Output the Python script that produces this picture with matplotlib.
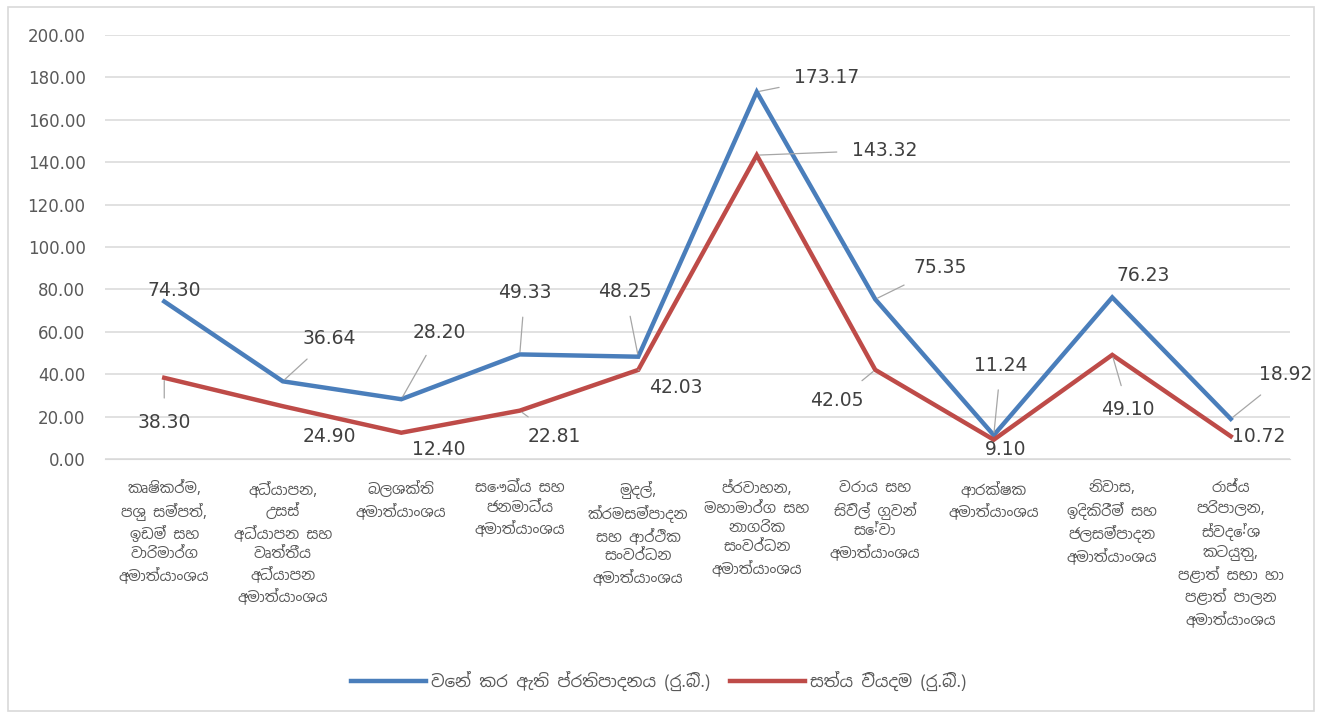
import logging
import matplotlib
matplotlib.use("Agg")
import matplotlib.pyplot as plt
from matplotlib import font_manager
from matplotlib.patches import Rectangle

logging.getLogger("fontTools").setLevel(logging.ERROR)

# Dataset
categories = [
    "කෘෂිකර්ම,\nපශු සම්පත්,\nඉඩම් සහ\nවාරිමාර්ග\nඅමාත්‍යාංශය",
    "අධ්‍යාපන,\nඋසස්\nඅධ්‍යාපන සහ\nවෘත්තීය\nඅධ්‍යාපන\nඅමාත්‍යාංශය",
    "බලශක්ති\nඅමාත්‍යාංශය",
    "සෞඛ්‍ය සහ\nජනමාධ්‍ය\nඅමාත්‍යාංශය",
    "මුදල්,\nක්‍රමසම්පාදන\nසහ ආර්ථික\nසංවර්ධන\nඅමාත්‍යාංශය",
    "ප්‍රවාහන,\nමහාමාර්ග සහ\nනාගරික\nසංවර්ධන\nඅමාත්‍යාංශය",
    "වරාය සහ\nසිවිල් ගුවන්\nසේවා\nඅමාත්‍යාංශය",
    "ආරක්ෂක\nඅමාත්‍යාංශය",
    "නිවාස,\nඉදිකිරීම් සහ\nජලසම්පාදන\nඅමාත්‍යාංශය",
    "රාජ්‍ය\nපරිපාලන,\nස්වදේශ\nකටයුතු,\nපළාත් සභා හා\nපළාත් පාලන\nඅමාත්‍යාංශය",
]
allocated = [74.30, 36.64, 28.20, 49.33, 48.25, 173.17, 75.35, 11.24, 76.23, 18.92]
actual = [38.30, 24.90, 12.40, 22.81, 42.03, 143.32, 42.05, 9.10, 49.10, 10.72]
series_names = ["වෙන් කර ඇති ප්‍රතිපාදනය (රු.බි.)", "සත්‍ය වියදම (රු.බි.)"]
yticks = [0, 20, 40, 60, 80, 100, 120, 140, 160, 180, 200]

# label offsets in pixels (dx, dy) and whether a leader line is drawn
blue_off = [(10, 11), (47, 43), (38, 67), (5, 62), (-13, 65), (70, 14), (65, 32), (7, 70), (31, 22), (55, 44)]
blue_lead = [False, True, True, True, True, True, True, True, False, True]
red_off = [(0, -45), (47, -30), (38, -17), (35, -26), (38, -18), (128, 5), (-38, -31), (12, -10), (16, -55), (28, 0)]
red_lead = [True, False, False, True, True, True, True, False, True, False]

# font with Sinhala glyphs (Noto Sans Sinhala if it is there)
found = []
try:
    from fontTools.ttLib import TTFont
    for f in font_manager.findSystemFonts():
        try:
            cmap = TTFont(f, fontNumber=0, lazy=True).getBestCmap() or {}
            if 0x0D9A in cmap and 0x0DCA in cmap:
                found.append((font_manager.FontProperties(fname=f).get_name(), f))
        except Exception:
            pass
except Exception:
    pass
found.sort(key=lambda t: (t[0] != "Noto Sans Sinhala", "Sinhala" not in t[0], t[0]))
fams = ["DejaVu Sans"]
if found:
    font_manager.fontManager.addfont(found[0][1])
    fams = [found[0][0], "DejaVu Sans"]
plt.rcParams["font.family"] = fams


def show(s):
    return s.replace("\u200d", "")


gray = "#595959"
blue = "#4A7EBB"
red = "#BE4B48"

fig = plt.figure(figsize=(13.17, 7.14), dpi=100)
ax = fig.add_axes([105 / 1317, 1 - 459 / 714, 1185 / 1317, 424 / 714])
fig.patches.append(Rectangle((8 / 1317, 3 / 714), 1306 / 1317, 704 / 714, transform=fig.transFigure,
                             fill=False, edgecolor="#D9D9D9", lw=1.2))

x = list(range(len(categories)))
ax.plot(x, allocated, color=blue, lw=3.2, label=show(series_names[0]), solid_joinstyle="miter")
ax.plot(x, actual, color=red, lw=3.2, label=show(series_names[1]), solid_joinstyle="miter")

ax.set_xlim(-0.5, len(categories) - 0.5)
ax.set_ylim(0, 200)
ax.set_yticks(yticks)
ax.set_yticklabels([f"{v:.2f}" for v in yticks], fontsize=12, color=gray, family=["DejaVu Sans"])
ax.tick_params(axis="y", length=0, pad=14)
ax.set_xticks(x)
ax.set_xticklabels([show(c) for c in categories], fontsize=10.5, color=gray, linespacing=1.4)
ax.tick_params(axis="x", length=0, pad=16)
ax.grid(axis="y", color="#D9D9D9", lw=1.1)
ax.set_axisbelow(True)
for s in ax.spines.values():
    s.set_visible(False)
ax.spines["bottom"].set_visible(True)
ax.spines["bottom"].set_color("#D9D9D9")

pt = 72 / 100
for vals, offs, leads in [(allocated, blue_off, blue_lead), (actual, red_off, red_lead)]:
    for i, v in enumerate(vals):
        dx, dy = offs[i]
        ap = dict(arrowstyle="-", color="#A6A6A6", lw=0.9, shrinkA=9, shrinkB=2) if leads[i] else None
        ax.annotate(f"{v:.2f}", (i, v), xytext=(dx * pt, dy * pt), textcoords="offset points",
                    ha="center", va="center", fontsize=13.5, color="#404040", family=["DejaVu Sans"],
                    arrowprops=ap)

fig.legend(loc="center", bbox_to_anchor=(0.5, 1 - 681 / 714), ncol=2, frameon=False,
           fontsize=12, handlelength=4.5, handletextpad=0.3, columnspacing=1.2, labelcolor=gray)

fig.savefig("out.png", dpi=100)
